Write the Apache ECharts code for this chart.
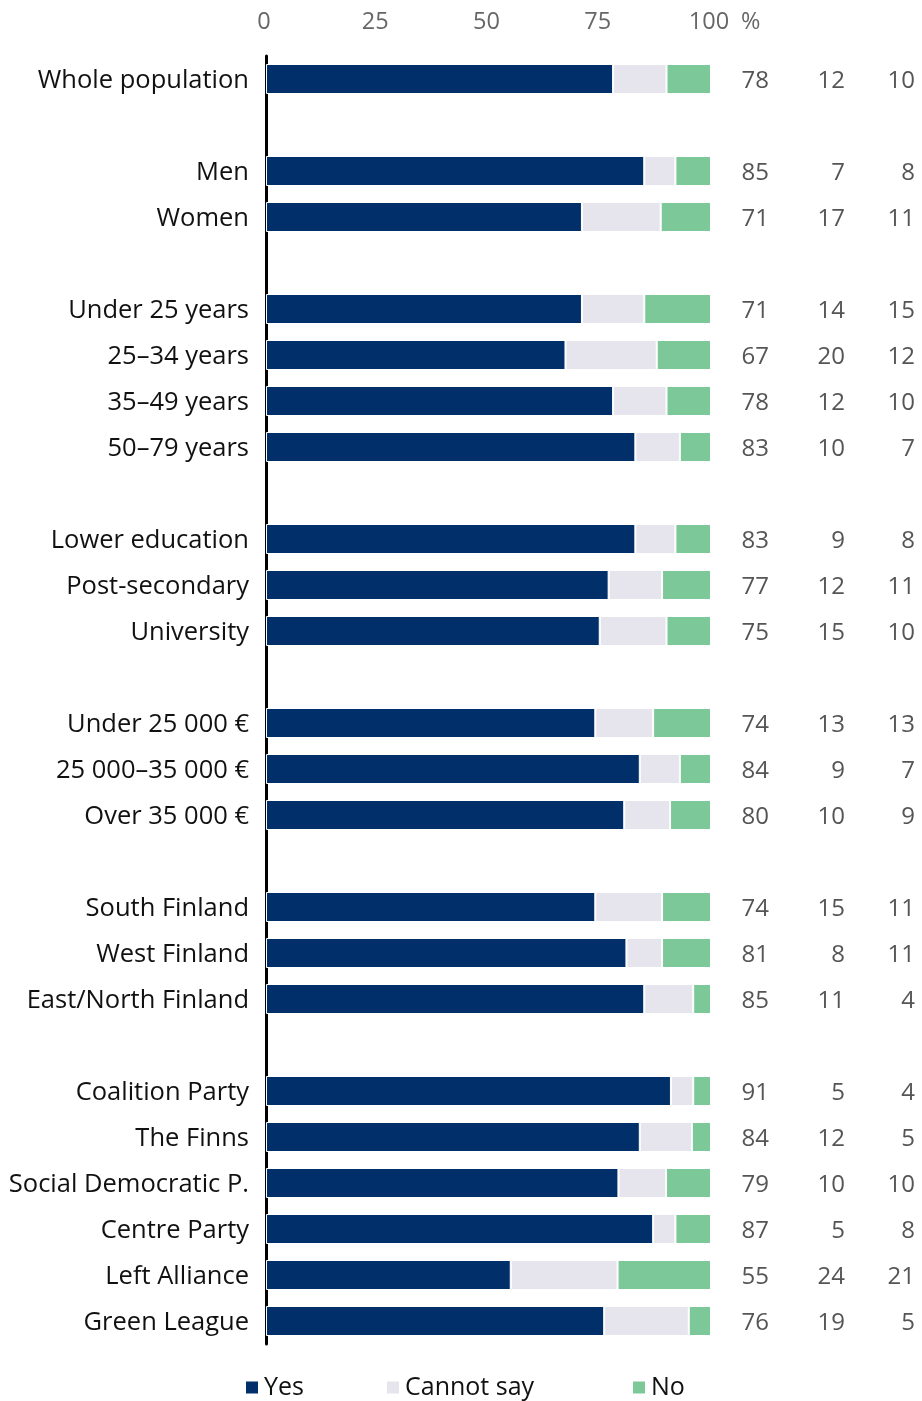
<!DOCTYPE html>
<html><head><meta charset="utf-8">
<script src="https://cdn.jsdelivr.net/npm/echarts@6/dist/echarts.min.js"></script>
<style>html,body{margin:0;padding:0;background:#fff}#c{width:922px;height:1401px}</style>
</head><body><div id="c"></div>
<script>
const categories = ['Whole population','',
  'Men','Women','',
  'Under 25 years','25–34 years','35–49 years','50–79 years','',
  'Lower education','Post-secondary','University','',
  'Under 25 000 €','25 000–35 000 €','Over 35 000 €','',
  'South Finland','West Finland','East/North Finland','',
  'Coalition Party','The Finns','Social Democratic P.','Centre Party','Left Alliance','Green League'];
// printed (rounded) values shown in the right-hand columns
const yesVals    = [78,null,85,71,null,71,67,78,83,null,83,77,75,null,74,84,80,null,74,81,85,null,91,84,79,87,55,76];
const cannotVals = [12,null,7,17,null,14,20,12,10,null,9,12,15,null,13,9,10,null,15,8,11,null,5,12,10,5,24,19];
const noVals     = [10,null,8,11,null,15,12,10,7,null,8,11,10,null,13,7,9,null,11,11,4,null,4,5,10,8,21,5];
// bar lengths (unrounded where the printed values do not add to 100)
const yesBars    = [78,null,85,71,null,71,67.3,78,83,null,83,77,75,null,74,84,80.5,null,74,81,85,null,91,84,79.2,87,55,76];
const cannotBars = [12,null,7,17.7,null,14,20.5,12,10,null,9,12,15,null,13,9,10.3,null,15,8,11,null,5,11.7,10.7,5,24,19];
const noBars     = [10,null,8,11.3,null,15,12.2,10,7,null,8,11,10,null,13,7,9.2,null,11,11,4,null,4,4.3,10.1,8,21,5];
const xTicks = [0,25,50,75,100];
const seriesNames = ['Yes','Cannot say','No'];
const colors = ['#002f69','#e6e4ec','#7cc899'];
const FONT = 'Open Sans';

const chart = echarts.init(document.getElementById('c'), null, {renderer:'canvas'});
const barStyle = (c) => ({color:c, borderColor:'#fff', borderWidth:1});
const bars = [yesBars, cannotBars, noBars];
chart.setOption({
  animation:false,
  textStyle:{fontFamily:FONT},
  grid:{left:266, right:211, top:56, bottom:57, containLabel:false},
  xAxis:{type:'value', position:'top', min:0, max:100, interval:25,
    axisLine:{show:false}, axisTick:{show:false}, splitLine:{show:false},
    axisLabel:{color:'#666', fontSize:23.5, fontFamily:FONT, margin:22, padding:[0,4,0,0],
      formatter:(v)=> xTicks.includes(v) ? String(v) : ''},
    name:'%', nameLocation:'end', nameGap:30,
    nameTextStyle:{color:'#666', fontSize:23.5, fontFamily:FONT, verticalAlign:'bottom', align:'left', padding:[0,0,22,0]}
  },
  yAxis:[{type:'category', data:categories, inverse:true,
    axisLine:{show:true, lineStyle:{color:'#000', width:3}}, axisTick:{show:false},
    axisLabel:{margin:17, fontFamily:FONT,
      formatter:(v)=> v ? '{t|'+v+'}' : '',
      rich:{t:{color:'#111', fontSize:25.5, fontFamily:FONT, padding:[4,0,0,0]}}}
  },{type:'category', data:categories, inverse:true, position:'right',
    axisLine:{show:false}, axisTick:{show:false},
    axisLabel:{margin:0, fontFamily:FONT, padding:[4,0,0,0],
      formatter:(v,i)=> yesVals[i]==null ? '' : '{a|'+yesVals[i]+'}{b|'+cannotVals[i]+'}{c|'+noVals[i]+'}',
      rich:{a:{width:58, align:'right', fontSize:24, color:'#555', fontFamily:FONT},
            b:{width:76, align:'right', fontSize:24, color:'#555', fontFamily:FONT},
            c:{width:70, align:'right', fontSize:24, color:'#555', fontFamily:FONT}}}
  }],
  legend:[0,1,2].map(i=>({data:[seriesNames[i]], left:[239,380,626][i], top:1370,
    icon:'rect', itemWidth:14, itemHeight:14, itemGap:0,
    textStyle:{fontSize:25, color:'#111', fontFamily:FONT, padding:[0,0,0,0]}})),
  series: seriesNames.map((n,i)=>({name:n, type:'bar', stack:'s', barWidth:30,
    data:bars[i], itemStyle:barStyle(colors[i]), emphasis:{disabled:true}}))
});
</script></body></html>
